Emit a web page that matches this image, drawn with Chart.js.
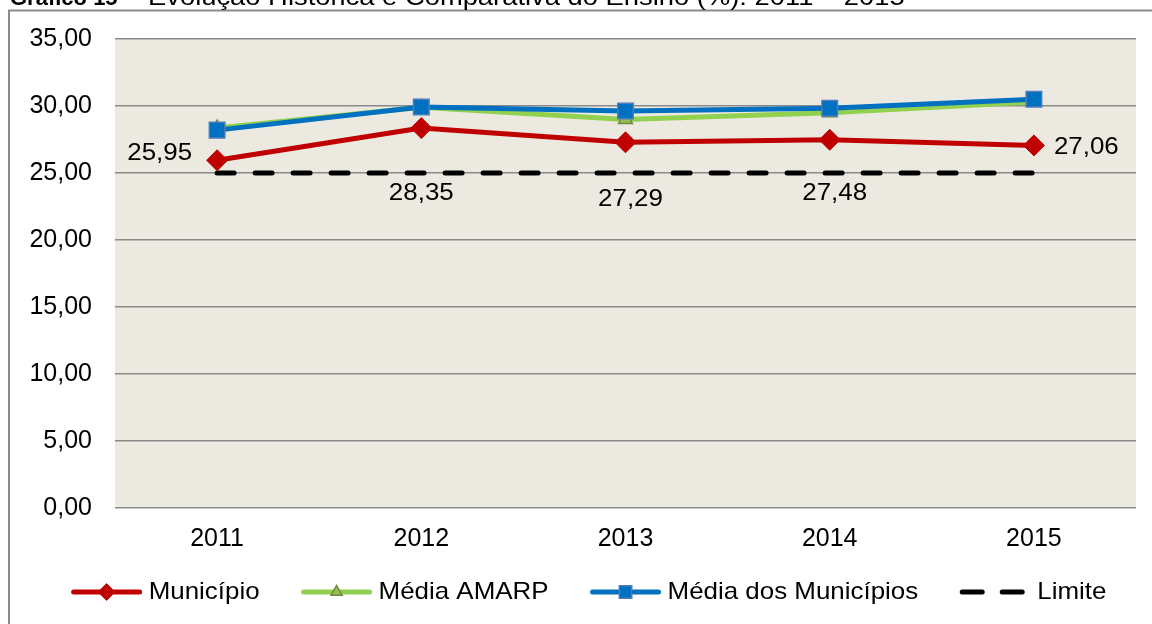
<!DOCTYPE html>
<html><head><meta charset="utf-8">
<script src="https://cdn.jsdelivr.net/npm/chart.js@4/dist/chart.umd.min.js"></script>
<style>html,body{margin:0;padding:0;background:#fff;}#wrap{position:relative;width:1152px;height:624px;}</style>
</head><body><div id="wrap"><canvas id="c" width="1152" height="624"></canvas></div>
<script>
const titleBold = 'Gráfico 15';
const titleRest = ' – Evolução Histórica e Comparativa do Ensino (%): 2011 – 2015';
const categories = ['2011', '2012', '2013', '2014', '2015'];
const municipio = [25.95, 28.35, 27.29, 27.48, 27.06];
const mediaAmarp = [28.35, 29.9, 29.0, 29.5, 30.3];
const mediaMunicipios = [28.2, 29.93, 29.63, 29.83, 30.5];
const limite = [25, 25, 25, 25, 25];
const seriesNames = ['Município', 'Média AMARP', 'Média dos Municípios', 'Limite'];
const yMin = 0, yMax = 35, yStep = 5;

const FONT = 'Liberation Sans, Arial, sans-serif';
const fmt = v => Number(v).toFixed(2).replace('.', ',');
const SX = 1.08;

function stretchedText(ctx, text, x, y, align, sx) {
  ctx.save();
  const w = ctx.measureText(text).width * sx;
  let x0 = x;
  if (align === 'center') x0 = x - w / 2;
  else if (align === 'right') x0 = x - w;
  ctx.translate(x0, y);
  ctx.scale(sx, 1);
  ctx.textAlign = 'left';
  ctx.fillText(text, 0, 0);
  ctx.restore();
  return w;
}

const framePlugin = {
  id: 'frame',
  beforeDraw(chart) {
    const ctx = chart.ctx, a = chart.chartArea;
    ctx.save();
    ctx.fillStyle = '#ffffff';
    ctx.fillRect(0, 0, chart.width, chart.height);
    ctx.strokeStyle = '#8c8c8c';
    ctx.lineWidth = 2;
    ctx.strokeRect(9, 10.5, 1400, 1000);
    ctx.fillStyle = '#ECEAE0';
    ctx.fillRect(a.left, a.top, a.right - a.left, a.bottom - a.top);
    ctx.restore();
  },
  afterDraw(chart) {
    const ctx = chart.ctx;
    ctx.save();
    ctx.fillStyle = '#000';
    ctx.textBaseline = 'alphabetic';
    ctx.font = 'bold 22px ' + FONT;
    ctx.textAlign = 'left';
    ctx.fillText(titleBold, 10, 5);
    const bw = ctx.measureText(titleBold).width;
    ctx.font = '24px ' + FONT;
    const rw = ctx.measureText(titleRest).width;
    stretchedText(ctx, titleRest, 10 + bw, 5, 'left', 787 / rw);
    ctx.restore();
  }
};

const labelPlugin = {
  id: 'vlabels',
  afterDatasetsDraw(chart) {
    const ctx = chart.ctx;
    const meta = chart.getDatasetMeta(0);
    const place = [[-25, -7, 'right'], [0, 65, 'center'], [5, 57, 'center'], [5, 54, 'center'], [20, 2, 'left']];
    ctx.save();
    ctx.fillStyle = '#000';
    ctx.font = '24px ' + FONT;
    ctx.textBaseline = 'middle';
    meta.data.forEach((pt, i) => {
      const p = place[i];
      stretchedText(ctx, fmt(chart.data.datasets[0].data[i]), pt.x + p[0], pt.y + p[1], p[2], SX);
    });
    ctx.restore();
  }
};

const legendPlugin = {
  id: 'customLegend',
  afterDraw(chart) {
    const ctx = chart.ctx;
    const y = 592, lineLen = 70, gapText = 7, gapItem = 42, cx = 589;
    ctx.save();
    ctx.font = '24px ' + FONT;
    const ds = chart.data.datasets;
    const widths = ds.map(d => lineLen + gapText + ctx.measureText(d.label).width * SX);
    const total = widths.reduce((s, w) => s + w, 0) + gapItem * (ds.length - 1);
    let x = cx - total / 2;
    ds.forEach((d, i) => {
      ctx.save();
      ctx.strokeStyle = d.borderColor;
      ctx.lineWidth = d.borderWidth;
      ctx.lineCap = 'round';
      if (d.borderDash) ctx.setLineDash([20, 20]);
      ctx.beginPath();
      ctx.moveTo(x + 2, y);
      ctx.lineTo(x + lineLen - 2, y);
      ctx.stroke();
      ctx.restore();
      if (d.pointRadius > 0) {
        ctx.save();
        ctx.fillStyle = d.pointBackgroundColor;
        ctx.strokeStyle = d.pointBorderColor;
        ctx.lineWidth = d.pointBorderWidth;
        Chart.helpers.drawPoint(ctx, {pointStyle: d.pointStyle, radius: d.pointRadius * 0.8, borderWidth: d.pointBorderWidth, rotation: 0}, x + lineLen / 2, y);
        ctx.restore();
      }
      ctx.fillStyle = '#000';
      ctx.textBaseline = 'middle';
      stretchedText(ctx, d.label, x + lineLen + gapText, y, 'left', SX);
      x += widths[i] + gapItem;
    });
    ctx.restore();
  }
};

new Chart(document.getElementById('c'), {
  type: 'line',
  data: {
    labels: categories,
    datasets: [
      {label: seriesNames[0], data: municipio, order: 1, borderColor: '#C00000', borderWidth: 5,
       pointStyle: 'rectRot', pointRadius: 10.5, pointBackgroundColor: '#C00000', pointBorderColor: '#C00000', pointBorderWidth: 1},
      {label: seriesNames[1], data: mediaAmarp, order: 3, borderColor: '#92D050', borderWidth: 5,
       pointStyle: 'triangle', pointRadius: 8, pointBackgroundColor: '#9BBB59', pointBorderColor: '#6E8C3A', pointBorderWidth: 1.5},
      {label: seriesNames[2], data: mediaMunicipios, order: 2, borderColor: '#0070C0', borderWidth: 5,
       pointStyle: 'rect', pointRadius: 11, pointBackgroundColor: '#0070C0', pointBorderColor: '#4A7EBB', pointBorderWidth: 1.5},
      {label: seriesNames[3], data: limite, order: 4, borderColor: '#000000', borderWidth: 5,
       borderDash: [17, 21], borderCapStyle: 'round', pointRadius: 0}
    ]
  },
  options: {
    responsive: false,
    animation: false,
    devicePixelRatio: 1,
    events: [],
    layout: {padding: {top: 39, right: 16, bottom: 56, left: 0}},
    elements: {line: {tension: 0, fill: false}},
    plugins: {legend: {display: false}, tooltip: {enabled: false}, title: {display: false}},
    scales: {
      x: {
        type: 'category', offset: true,
        grid: {display: false, drawTicks: false},
        border: {display: false},
        ticks: {color: '#000', font: {size: 25, family: FONT}, padding: 16, maxRotation: 0},
        afterFit: s => { s.height = 60; }
      },
      y: {
        min: yMin, max: yMax,
        grid: {color: '#8a8a8a', lineWidth: 1.5, drawTicks: false},
        border: {display: false},
        ticks: {stepSize: yStep, color: '#000', font: {size: 25, family: FONT}, padding: 23, callback: v => fmt(v)},
        afterFit: s => { s.width = 115; }
      }
    }
  },
  plugins: [framePlugin, labelPlugin, legendPlugin]
});
</script>
</body></html>
